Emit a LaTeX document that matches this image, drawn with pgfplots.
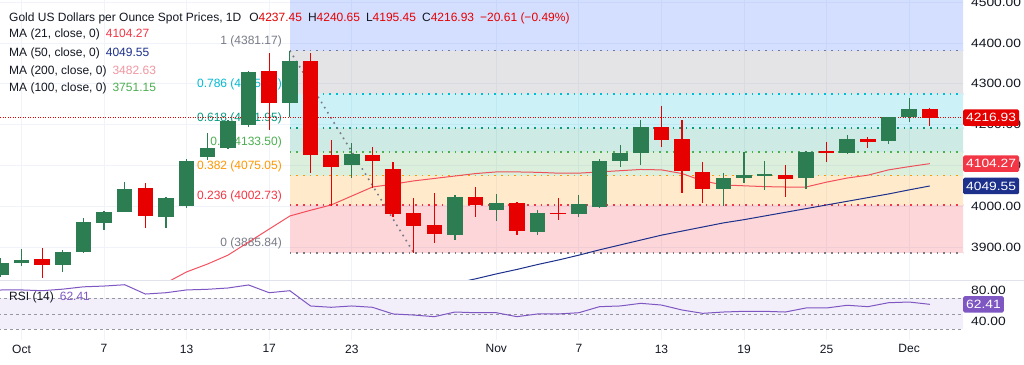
\documentclass[border=0pt]{standalone}
\usepackage{pgfplots}
\pgfplotsset{compat=1.18}
\usepackage{pgfplotstable}
\usepackage{fontspec}
\setmainfont{Liberation Sans}
\newfontfamily\pricefam[FakeStretch=1.15]{Liberation Sans}
\newcommand\lf{\fontsize{12bp}{14bp}\selectfont}
\newcommand\pf{\pricefam\fontsize{12bp}{14bp}\selectfont}

\definecolor{txt}{RGB}{19,23,34}
\definecolor{cgreen}{RGB}{44,125,82}
\definecolor{cred}{RGB}{230,0,0}
\definecolor{ma21}{RGB}{242,54,69}
\definecolor{ma50}{RGB}{28,48,140}
\definecolor{ma200}{RGB}{240,150,160}
\definecolor{ma100}{RGB}{76,175,80}
\definecolor{rsic}{RGB}{126,87,194}
\definecolor{rsiband}{RGB}{243,239,250}
\definecolor{gridc}{RGB}{240,243,250}
\definecolor{sepc}{RGB}{224,227,235}
\definecolor{rsidash}{RGB}{150,152,161}
\definecolor{fgray}{RGB}{120,123,134}
\definecolor{fred}{RGB}{242,54,69}
\definecolor{forange}{RGB}{255,152,0}
\definecolor{fgreen}{RGB}{76,175,80}
\definecolor{fteal}{RGB}{8,153,129}
\definecolor{fcyan}{RGB}{0,188,212}
\definecolor{fblue}{RGB}{41,98,255}

\pgfplotstableread{
i o h l c
-1 3831.4 3873 3826 3860.8
0 3860.8 3895.1 3853.4 3868.1
2 3855.9 3892.6 3838.7 3887.7
3 3887.7 3971.0 3885.3 3961.3
4 3958.8 3988.2 3941.7 3985.8
5 3985.8 4059.3 3985.0 4042.2
7 3973.5 4022.5 3946.6 4020.1
8 4000.5 4115.7 3995.6 4110.8
9 4120.6 4179.4 4113.2 4142.6
10 4142.6 4211.3 4140.2 4208.8
11 4199.0 4331.4 4194.1 4328.9
13 4252.9 4381.17 4218.6 4355.9
16 4101.0 4154.9 4069.1 4128.0
21 3929.4 4027.5 3917.1 4022.5
23 3990.7 4029.9 3963.7 4007.8
25 3936.8 3990.7 3929.4 3983.3
27 3980.9 4027.5 3973.5 4005.4
28 3998.0 4115.7 3996.0 4110.8
29 4110.8 4150.0 4096.1 4130.4
30 4130.4 4211.3 4101.0 4194.1
34 4042.2 4081.4 4000.5 4069.1
35 4069.1 4132.8 4056.9 4076.5
36 4074.0 4110.8 4039.7 4078.9
38 4069.1 4135.3 4042.2 4132.8
40 4130.4 4174.5 4129.0 4164.7
42 4159.8 4219.5 4152.5 4218.6
43 4218.6 4265.2 4206.4 4238.2
}\greentab

\pgfplotstableread{
i o h l c
1 3870.6 3897.6 3824.0 3855.9
6 4044.6 4056.9 3946.6 3976.0
12 4331.4 4375.0 4186.8 4252.9
14 4355.9 4375.5 4081.4 4125.5
15 4125.5 4162.3 4000.5 4096.1
17 4125.5 4145.1 4044.6 4110.8
18 4091.2 4108.3 3973.5 3980.9
19 3983.3 4020.1 3885.84 3951.5
20 3953.9 4032.4 3909.8 3931.9
22 4022.5 4047.1 3973.5 4002.9
24 4007.8 4010.3 3929.4 3939.2
26 3983.3 4020.1 3966.2 3980.9
31 4194.1 4245.6 4145.1 4162.3
32 4164.7 4211.3 4032.4 4086.3
33 4083.8 4108.3 4007.8 4042.2
37 4076.5 4101.0 4022.5 4066.7
39 4135.3 4157.4 4108.3 4130.4
41 4164.7 4169.6 4142.6 4157.4
44 4237.45 4240.65 4195.45 4216.93
}\redtab

\pgfplotstableread{
i v
5 3785
6 3797
7 3812
8 3839
9 3858
10 3880
11 3912
12 3944
13 3976
14 3990
15 4003
16 4025
17 4047
18 4054
19 4062
20 4068
21 4074
22 4080
23 4084
24 4084
25 4083
26 4081
27 4081
28 4084
29 4087
30 4090
31 4089
32 4080
33 4062
34 4052
35 4050
36 4048
37 4047
38 4047
39 4059
40 4069
41 4076
42 4089
43 4097
44 4104.27
}\matwentyone

\pgfplotstableread{
i v
21 3811
22 3822
23 3834
24 3845
25 3857
26 3868
27 3880
28 3893
29 3905
30 3917
31 3929
32 3939
33 3949
34 3959
35 3967
36 3976
37 3985
38 3994
39 4003
40 4012
41 4021
42 4030
43 4040
44 4049.55
}\mafifty

\pgfplotstableread{
i v
-1.04 80.9
0 81
1 80
2 82
3 85
4 86
5 87.7
6 75.7
7 77.4
8 81
9 81.8
10 83.5
11 87.4
12 77.4
13 80
14 60.3
15 58.6
16 60.3
17 58.6
18 50
19 48.6
20 46.5
21 52.5
22 51.6
23 51.6
24 46.5
25 50
26 50
27 51.6
28 59.4
29 60.3
30 63.7
31 61.5
32 55.1
33 50.8
34 52.5
35 53.4
36 53.4
37 52.5
38 57.7
39 57.7
40 61.2
41 59.4
42 64.5
43 65.4
44 62.41
}\rsitab

\begin{document}
\begin{tikzpicture}[x=1bp,y=1bp]
\path[use as bounding box] (0,0) rectangle (1024,364);
\fill[white] (0,0) rectangle (1024,364);

\begin{axis}[
  at={(0bp,84bp)}, anchor=south west, scale only axis,
  width=963bp, height=280bp,
  xmin=-1.042, xmax=45.61, ymin=3819.1, ymax=4505.4,
  axis line style={draw=none},
  major tick length=0pt,
  xtick={0,4,8,12,16,23,27,31,35,39,43},
  xticklabel=\empty,
  ytick={3900,4000,4100,4200,4300,4400,4500},
  yticklabels={3900.00,4000.00,4100.00,4200.00,4300.00,4400.00,4500.00},
  yticklabel pos=right,
  yticklabel style={font=\pf, text=txt, anchor=west, inner sep=0pt, xshift=8bp},
  grid=major, grid style={draw=gridc, line width=0.8bp},
]
% fib bands
\fill[fblue, opacity=0.2] (axis cs:13,4381.17) rectangle (axis cs:46,4510);
\fill[fgray, opacity=0.2] (axis cs:13,4275.17) rectangle (axis cs:46,4381.17);
\fill[fcyan, opacity=0.2] (axis cs:13,4191.95) rectangle (axis cs:46,4275.17);
\fill[fteal, opacity=0.2] (axis cs:13,4133.50) rectangle (axis cs:46,4191.95);
\fill[fgreen, opacity=0.2] (axis cs:13,4075.05) rectangle (axis cs:46,4133.50);
\fill[forange, opacity=0.2] (axis cs:13,4002.73) rectangle (axis cs:46,4075.05);
\fill[fred, opacity=0.2] (axis cs:13,3885.84) rectangle (axis cs:46,4002.73);
% fib lines
\tikzset{fibl/.style={line width=1.6bp, dash pattern=on 1.6bp off 5bp}}
\draw[fibl, fgray] (axis cs:13,4381.17) -- (axis cs:46,4381.17);
\draw[fibl, fcyan] (axis cs:13,4275.17) -- (axis cs:46,4275.17);
\draw[fibl, fteal] (axis cs:13,4191.95) -- (axis cs:46,4191.95);
\draw[fibl, fgreen] (axis cs:13,4133.50) -- (axis cs:46,4133.50);
\draw[fibl, forange] (axis cs:13,4075.05) -- (axis cs:46,4075.05);
\draw[fibl, fred] (axis cs:13,4002.73) -- (axis cs:46,4002.73);
\draw[fibl, fgray] (axis cs:13,3885.84) -- (axis cs:46,3885.84);
% fib labels
\tikzset{fibt/.style={anchor=base east, inner sep=0pt, font=\lf, yshift=6bp}}
\node[fibt, text=fgray] at (axis cs:12.62,4381.17) {1 (4381.17)};
\node[fibt, text=fcyan] at (axis cs:12.62,4275.17) {0.786 (4275.17)};
\node[fibt, text=fteal] at (axis cs:12.62,4191.95) {0.618 (4191.95)};
\node[fibt, text=fgreen] at (axis cs:12.62,4133.50) {0.5 (4133.50)};
\node[fibt, text=forange] at (axis cs:12.62,4075.05) {0.382 (4075.05)};
\node[fibt, text=fred] at (axis cs:12.62,4002.73) {0.236 (4002.73)};
\node[fibt, text=fgray] at (axis cs:12.62,3885.84) {0 (3885.84)};
% trend diagonal
\draw[fgray, line width=1.6bp, dash pattern=on 1.6bp off 4.4bp] (axis cs:13,4381.17) -- (axis cs:19,3885.84);
% current price line
\draw[cred, line width=0.6bp, dash pattern=on 1bp off 1.5bp] (axis cs:-2,4216.93) -- (axis cs:47,4216.93);
% moving averages
\addplot[ma21, line width=1bp, opacity=0.85, mark=none] table[x=i, y=v] {\matwentyone};
\addplot[ma50, line width=1bp, mark=none] table[x=i, y=v] {\mafifty};
% candles: wicks
\addplot[draw=none, mark=none, error bars/.cd, y dir=both, y explicit, error mark=none,
  error bar style={draw=cgreen, line width=1.2bp}]
  table[x=i, y=c, y error plus expr=\thisrow{h}-\thisrow{c}, y error minus expr=\thisrow{c}-\thisrow{l}] {\greentab};
\addplot[draw=none, mark=none, error bars/.cd, y dir=both, y explicit, error mark=none,
  error bar style={draw=cred, line width=1.2bp}]
  table[x=i, y=c, y error plus expr=\thisrow{h}-\thisrow{c}, y error minus expr=\thisrow{c}-\thisrow{l}] {\redtab};
% candles: bodies
\addplot[draw=none, mark=none, error bars/.cd, y dir=plus, y explicit, error mark=none,
  error bar style={draw=cgreen, line width=15.5bp}]
  table[x=i, y=o, y error expr=\thisrow{c}-\thisrow{o}] {\greentab};
\addplot[draw=none, mark=none, error bars/.cd, y dir=plus, y explicit, error mark=none,
  error bar style={draw=cred, line width=15.5bp}]
  table[x=i, y=c, y error expr=\thisrow{o}-\thisrow{c}] {\redtab};
\coordinate (pA) at (axis cs:45.61,4216.93);
\coordinate (pB) at (axis cs:45.61,4104.27);
\coordinate (pC) at (axis cs:45.61,4049.55);
\end{axis}

\begin{axis}[
  at={(0bp,24bp)}, anchor=south west, scale only axis,
  width=963bp, height=60bp,
  xmin=-1.042, xmax=45.61, ymin=16.4, ymax=93.8,
  axis line style={draw=none},
  major tick length=0pt,
  xtick={0,4,8,12,16,23,27,31,35,39,43},
  xticklabels={Oct,7,13,17,23,Nov,7,13,19,25,Dec},
  xticklabel style={font=\lf, text=txt, inner sep=0pt, yshift=-4.5bp},
  ytick={40,80}, yticklabels={40.00,80.00},
  yticklabel pos=right,
  yticklabel style={font=\pf, text=txt, anchor=west, inner sep=0pt, xshift=8bp},
  xmajorgrids, ymajorgrids=false, grid style={draw=gridc, line width=0.8bp},
]
\fill[rsiband] (axis cs:-2,30) rectangle (axis cs:47,70);
\tikzset{rsid/.style={draw=rsidash, line width=0.8bp, dash pattern=on 3bp off 3bp}}
\draw[rsid] (axis cs:-2,70) -- (axis cs:47,70);
\draw[rsid] (axis cs:-2,50) -- (axis cs:47,50);
\draw[rsid] (axis cs:-2,30) -- (axis cs:47,30);
\addplot[rsic, line width=1bp, mark=none] table[x=i, y=v] {\rsitab};
\coordinate (pD) at (axis cs:45.61,62.41);
\end{axis}

% panel separator
\draw[sepc, line width=1bp] (0,83.5) -- (1024,83.5);

% price scale boxes
\tikzset{pbox/.style={anchor=west, text=white, font=\pf, inner xsep=3bp, inner ysep=0pt, minimum height=16.5bp, rounded corners=1.5bp}}
\node[pbox, fill=cred] at (pA) {4216.93};
\node[pbox, fill=ma21] at (pB) {4104.27};
\node[pbox, fill=ma50] at (pC) {4049.55};
\node[pbox, fill=rsic] at (pD) {62.41};

% legend
\tikzset{leg/.style={anchor=base west, inner sep=0pt, font=\lf, text=txt}}
\node[leg] at (9,343) {Gold US Dollars per Ounce Spot Prices, 1D\hspace{8bp}O\textcolor{cred}{4237.45}\hspace{6bp}H\textcolor{cred}{4240.65}\hspace{6bp}L\textcolor{cred}{4195.45}\hspace{6bp}C\textcolor{cred}{4216.93}\hspace{6bp}\textcolor{cred}{−20.61 (−0.49\%)}};
\node[leg] at (9,326.5) {MA (21, close, 0)\hspace{6bp}\textcolor{ma21}{4104.27}};
\node[leg] at (9,308) {MA (50, close, 0)\hspace{6bp}\textcolor{ma50}{4049.55}};
\node[leg] at (9,290) {MA (200, close, 0)\hspace{6bp}\textcolor{ma200}{3482.63}};
\node[leg] at (9,272.3) {MA (100, close, 0)\hspace{6bp}\textcolor{ma100}{3751.15}};
\node[leg] at (9,64) {RSI (14)\hspace{6bp}\textcolor{rsic}{62.41}};
\end{tikzpicture}
\end{document}
